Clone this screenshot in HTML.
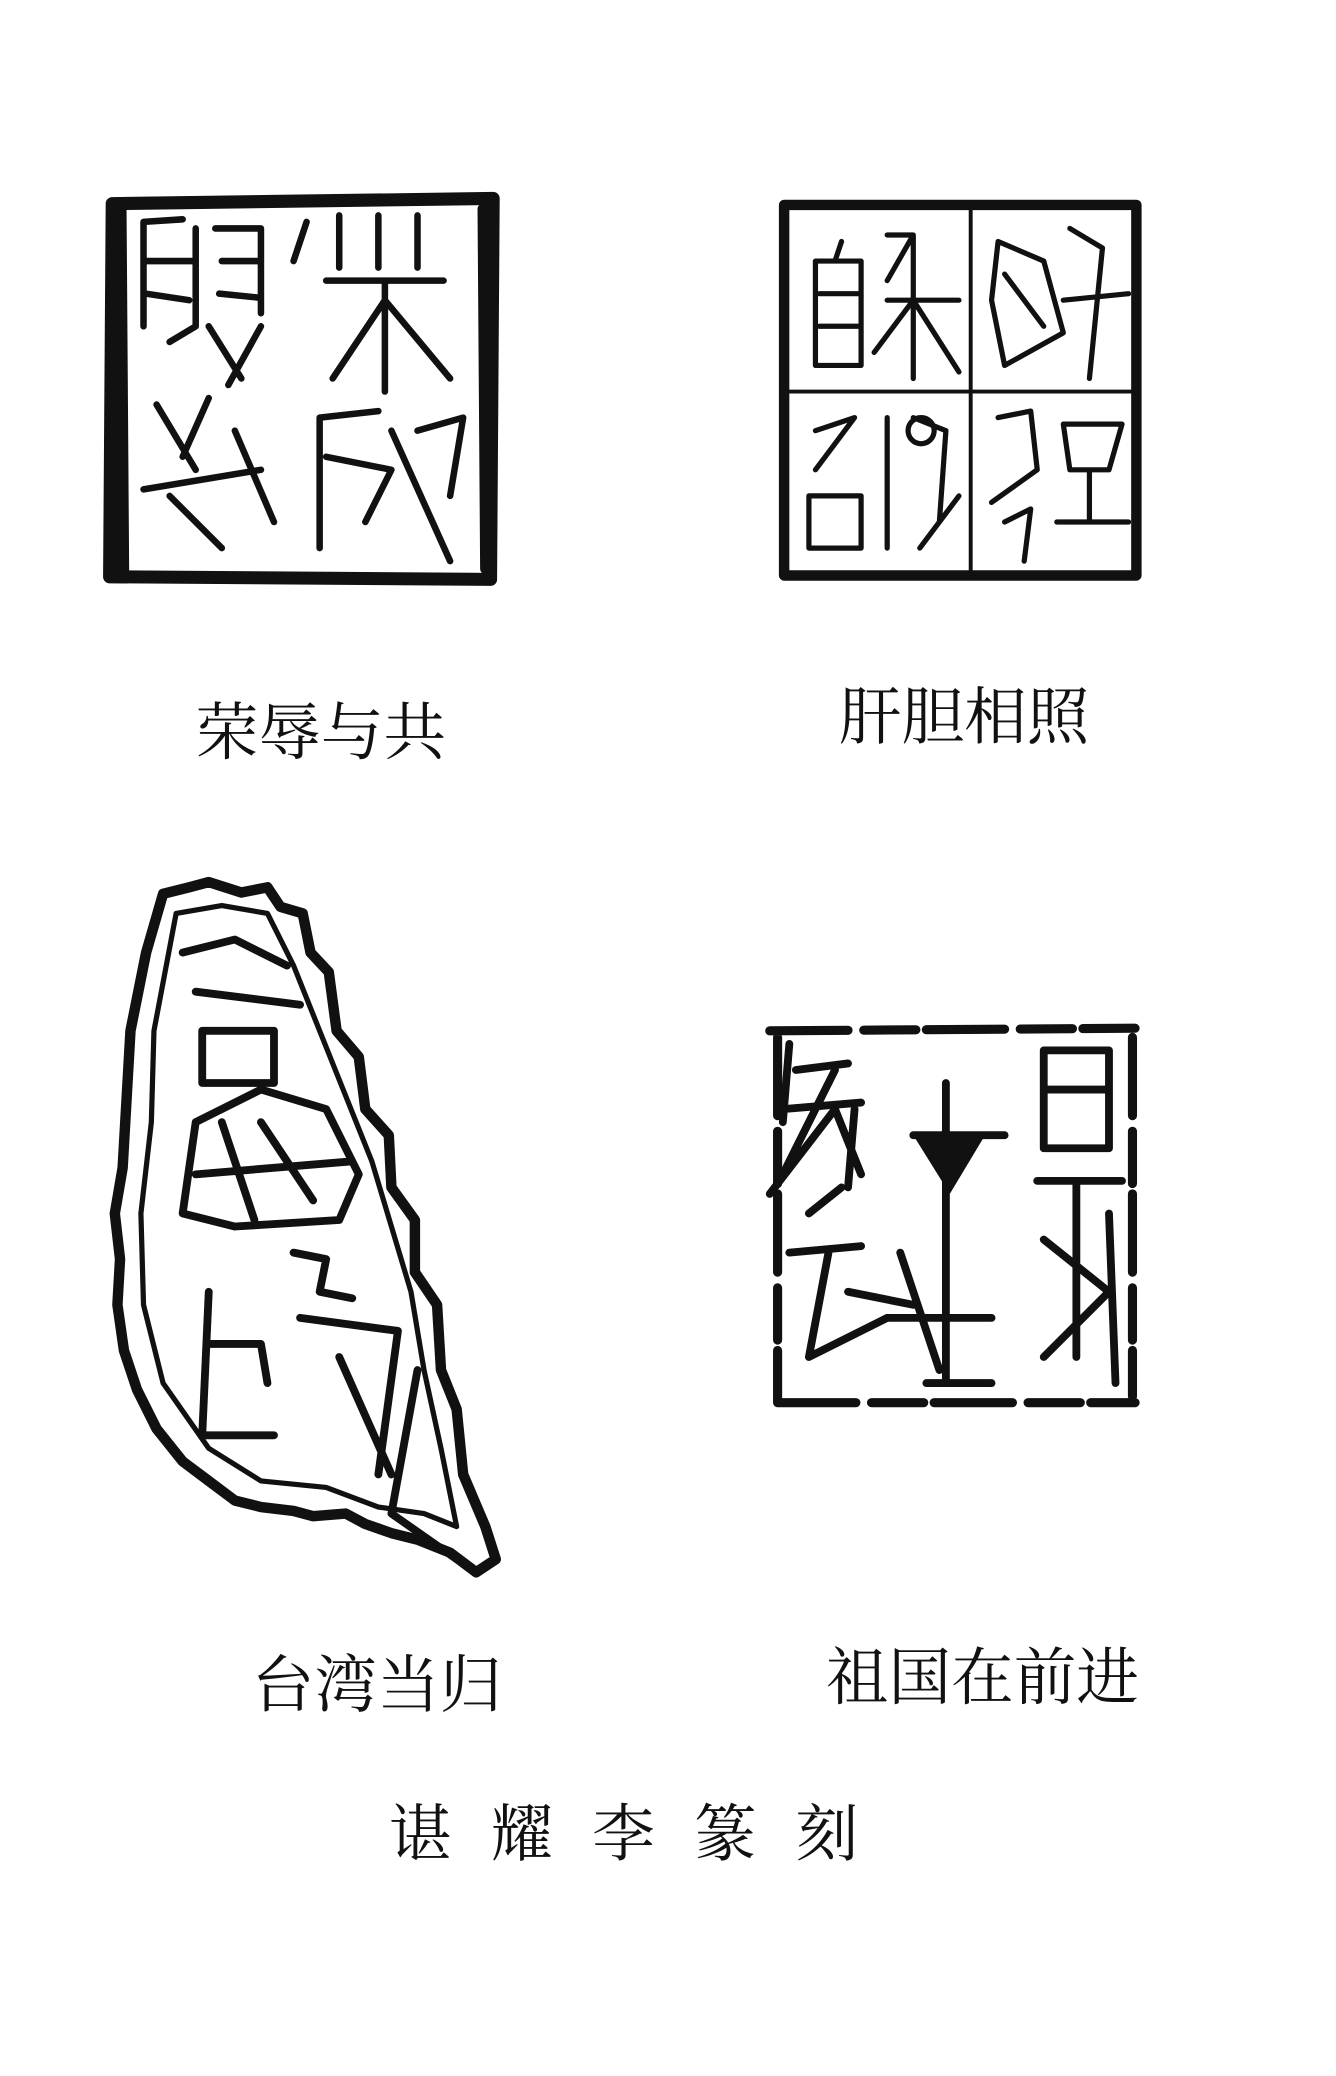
<!DOCTYPE html>
<html><head><meta charset="utf-8"><style>
html,body{margin:0;padding:0;background:#fff;}
svg{display:block}
text{font-family:"Liberation Serif","Noto Serif CJK SC","Noto Sans CJK SC",serif;fill:#111}
</style></head><body>
<svg width="1336" height="2076" viewBox="0 0 1024 1591" xmlns="http://www.w3.org/2000/svg">
<rect width="1024" height="1591" fill="#fff"/>
<g fill="none" stroke="#111" stroke-linecap="round" stroke-linejoin="round">
<!-- Seal 1 -->
<path d="M86 156 L378 152 L376 444 L84 442 Z" stroke-width="10"/>
<path d="M90 160 L92 438" stroke-width="14"/>
<path d="M370 160 L372 436" stroke-width="8"/>
<g stroke-width="5">
<path d="M110 170 L110 250 M110 170 L140 168 M112 200 L150 200 M112 225 L145 230 M150 175 L150 250 L130 262"/>
<path d="M165 175 L200 175 L200 240 M170 200 L198 200 M168 225 L198 228 M160 250 L185 290 M200 250 L175 295"/>
<path d="M235 170 L225 200 M260 165 L260 205 M290 165 L290 205 M320 165 L320 205 M250 215 L340 215 M295 215 L295 300 M295 230 L255 290 M295 230 L345 290"/>
<path d="M120 310 L150 360 M160 305 L140 350 M110 375 L200 360 M130 380 L170 420 M180 330 L210 400"/>
<path d="M245 320 L245 420 M245 320 L290 315 M250 350 L300 360 L280 400 M300 330 L345 430 M320 330 L355 320 L345 380"/>
</g>
<!-- Seal 2 -->
<rect x="601" y="157" width="270" height="284" stroke-width="8"/>
<path d="M744 160 L744 438 M605 300 L868 300" stroke-width="3"/>
<g stroke-width="4">
<path d="M625 200 L625 280 L660 280 L660 200 Z M628 225 L658 225 M628 250 L658 250 M645 185 L640 200"/>
<path d="M680 180 L700 180 L680 215 M700 180 L700 290 M680 230 L735 230 M700 230 L670 270 M700 230 L735 285"/>
<path d="M765 185 L800 200 L815 255 L770 280 L760 230 Z M770 210 L800 250 M820 175 L845 190 L835 290 M815 230 L865 225"/>
<path d="M625 330 L655 320 L625 360 M620 380 L660 380 L660 420 L620 420 Z M680 320 L680 420 M700 320 L725 330 L720 400 M705 420 L735 380"/>
<circle cx="706" cy="330" r="10"/>
<path d="M765 320 L790 315 L795 360 L760 385 M770 400 L790 390 L785 430 M815 325 L860 325 L850 360 L820 360 Z M835 360 L835 400 M810 400 L865 400"/>
</g>
<!-- Taiwan -->
<path d="M125 685 L145 680 L160 676 L185 684 L205 680 L215 695 L232 700 L238 730 L252 745 L258 790 L275 810 L280 850 L298 870 L300 910 L318 935 L318 975 L335 1000 L338 1050 L350 1080 L355 1130 L372 1170 L380 1195 L365 1205 L345 1190 L320 1180 L300 1175 L280 1168 L265 1160 L240 1162 L225 1158 L200 1155 L180 1150 L160 1135 L140 1120 L120 1095 L105 1065 L95 1035 L90 1000 L92 965 L88 930 L94 895 L96 860 L98 825 L100 790 L106 760 L112 730 Z" stroke-width="8"/>
<path d="M135 700 L170 694 L205 700 L225 740 L245 790 L265 840 L285 890 L300 940 L315 990 L325 1050 L338 1110 L350 1170 L325 1160 L290 1155 L250 1140 L200 1135 L160 1110 L125 1060 L110 1000 L108 930 L116 860 L118 790 Z" stroke-width="4"/>
<g stroke-width="6">
<path d="M140 730 L180 720 L220 740 M150 760 L230 770 M155 790 L210 790 L210 830 L155 830 Z"/>
<path d="M140 930 L150 860 L200 835 L250 850 L275 900 L260 935 L180 940 Z M170 860 L195 935 M200 860 L240 920 M150 900 L270 890"/>
<path d="M160 990 L155 1100 L210 1100 M160 1030 L200 1030 L205 1060 M225 960 L250 965 L245 990 L270 995 M230 1010 L305 1020 L290 1130 M260 1040 L300 1130 M320 1050 L300 1160 M300 1160 L350 1195"/>
</g>
<!-- Seal 4 -->
<g stroke-width="7">
<path d="M590 790 L870 788 M596 795 L596 1075 M596 1075 L870 1075 M868 795 L868 1070" stroke-dasharray="60 12 40 8"/>
</g>
<g stroke-width="6">
<path d="M605 800 L600 860 M610 820 L650 815 M600 850 L660 845 M640 820 L600 900 M590 915 L640 850 L660 900 M655 850 L650 910"/>
<path d="M620 930 L645 910 M605 960 L660 955 M635 960 L620 1040 M620 1040 L680 1010 M650 990 L700 1000 M690 960 L720 1050"/>
<path d="M725 830 L725 1060 M700 870 L770 870 M710 1060 L760 1060 M680 1010 L760 1010"/>
<path d="M800 805 L850 805 L850 880 L800 880 Z M800 835 L850 835 M795 905 L860 905 M825 905 L825 1040 M800 950 L850 990 L800 1040 M850 930 L855 1060"/>
</g>
<path d="M700 870 L755 870 L728 915 Z" fill="#111" stroke="none"/>
</g>
<text x="150" y="578" font-size="48">荣辱与共</text>
<text x="643" y="566" font-size="48">肝胆相照</text>
<text x="193" y="1308" font-size="48">台湾当归</text>
<text x="633" y="1302" font-size="48">祖国在前进</text>
<text x="298" y="1422" font-size="48" letter-spacing="30">谌耀李篆刻</text>
</svg>
</body></html>
